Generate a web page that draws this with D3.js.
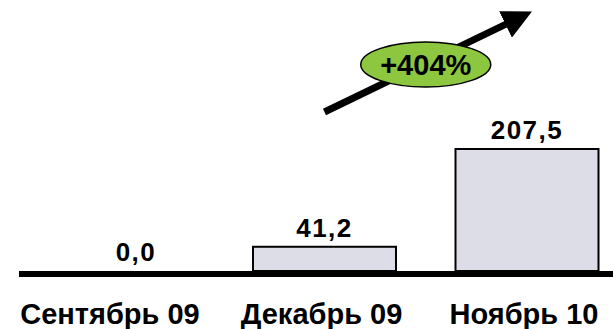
<!DOCTYPE html>
<html>
<head>
<meta charset="utf-8">
<script src="https://cdn.jsdelivr.net/npm/d3@7"></script>
<style>
  body { margin: 0; background: #fff; }
  text { font-family: "Liberation Sans", Arial, sans-serif; font-weight: bold; fill: #000; }
</style>
</head>
<body>
<div id="chart"></div>
<script>
// data
var categories = ["Сентябрь 09", "Декабрь 09", "Ноябрь 10"];
var values = [0.0, 41.2, 207.5];
var valueLabels = ["0,0", "41,2", "207,5"];
var growthLabel = "+404%";

var width = 613, height = 329;

var svg = d3.select("#chart").append("svg")
  .attr("width", width)
  .attr("height", height);

// scales
var x = d3.scaleBand()
  .domain(categories)
  .range([49.5, 599.5])
  .paddingInner(0.284)
  .paddingOuter(0);

var y = d3.scaleLinear()
  .domain([0, 207.5])
  .range([271, 149]);

// bars (the zero bar has no height, so it is skipped)
svg.append("g")
  .selectAll("rect")
  .data(categories.map(function(c, i) { return { cat: c, v: values[i] }; }).filter(function(d) { return d.v > 0; }))
  .enter()
  .append("rect")
  .attr("x", function(d) { return x(d.cat) + 1; })
  .attr("y", function(d) { return y(d.v); })
  .attr("width", x.bandwidth() - 2)
  .attr("height", function(d) { return y(0) - y(d.v); })
  .attr("fill", "#dcdde7")
  .attr("stroke", "#000")
  .attr("stroke-width", 2);

// baseline
svg.append("line")
  .attr("x1", 19)
  .attr("x2", width)
  .attr("y1", y(0) + 3)
  .attr("y2", y(0) + 3)
  .attr("stroke", "#000")
  .attr("stroke-width", 6);

// value labels
svg.append("g")
  .selectAll("text")
  .data(values)
  .enter()
  .append("text")
  .attr("x", function(d, i) { return x(categories[i]) + x.bandwidth() / 2 + (i === 0 ? 14 : 0); })
  .attr("y", function(d) { return y(d) - 10; })
  .attr("text-anchor", "middle")
  .style("font-size", "26px")
  .style("letter-spacing", "1.5px")
  .text(function(d, i) { return valueLabels[i]; });

// category labels
svg.append("g")
  .selectAll("text")
  .data(categories)
  .enter()
  .append("text")
  .attr("x", function(d, i) { return x(d) + x.bandwidth() / 2 - (i === 0 ? 12 : 3); })
  .attr("y", 324)
  .attr("text-anchor", "middle")
  .style("font-size", "29px")
  .text(function(d) { return d; });

// growth arrow from Dec to Nov
var x1 = x(categories[1]) + x.bandwidth() / 2;
var x2 = x(categories[2]) + x.bandwidth() / 2;
var ay1 = 112, ay2 = 14;

svg.append("defs").append("marker")
  .attr("id", "head")
  .attr("viewBox", "0 0 10 10")
  .attr("refX", 2)
  .attr("refY", 5)
  .attr("markerWidth", 4.2)
  .attr("markerHeight", 4.2)
  .attr("markerUnits", "strokeWidth")
  .attr("orient", "auto")
  .append("path")
  .attr("d", "M0,0 L10,5 L0,10 z")
  .attr("fill", "#000");

var ang = Math.atan2(ay2 - ay1, x2 - x1);
svg.append("line")
  .attr("x1", x1)
  .attr("y1", ay1)
  .attr("x2", x2 - 18 * Math.cos(ang))
  .attr("y2", ay2 - 18 * Math.sin(ang))
  .attr("stroke", "#000")
  .attr("stroke-width", 7)
  .attr("marker-end", "url(#head)");

// growth badge
var cx = (x1 + x2) / 2;
svg.append("ellipse")
  .attr("cx", cx)
  .attr("cy", 64.5)
  .attr("rx", 65)
  .attr("ry", 22.5)
  .attr("fill", "#8dc63f")
  .attr("stroke", "#000")
  .attr("stroke-width", 1.5);

svg.append("text")
  .attr("x", cx)
  .attr("y", 75)
  .attr("text-anchor", "middle")
  .style("font-size", "29px")
  .text(growthLabel);
</script>
</body>
</html>
